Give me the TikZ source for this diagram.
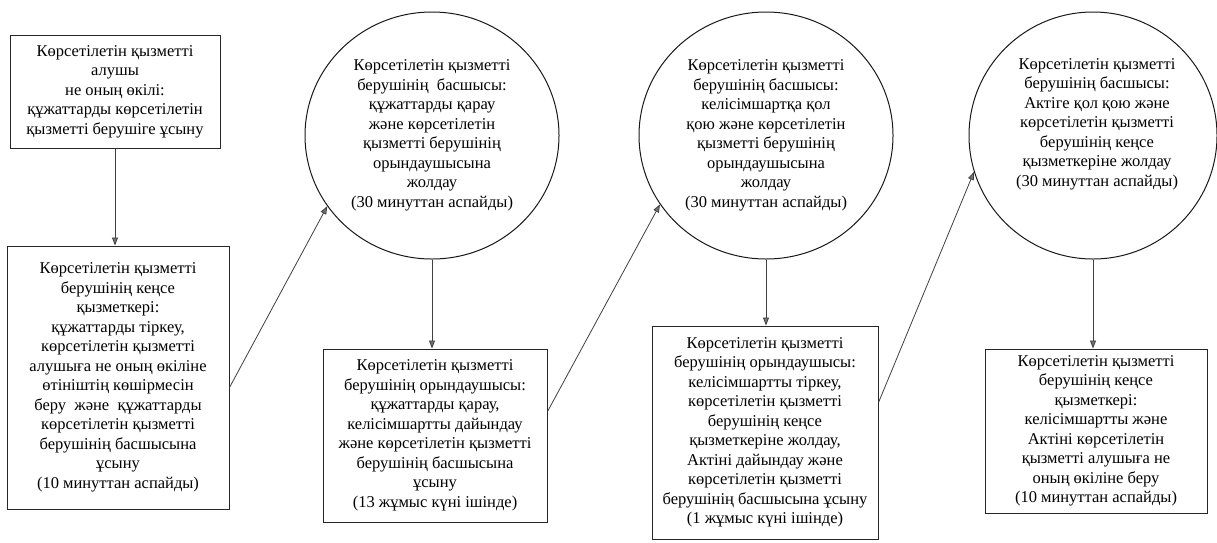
\documentclass[tikz,border=0pt]{standalone}
\usepackage{fontspec}
\setmainfont{Liberation Serif}
\usetikzlibrary{shapes.geometric,arrows.meta,calc}
\begin{document}
\begin{tikzpicture}[x=1pt,y=-1pt,
  every node/.style={font=\fontsize{16.5}{19.5}\selectfont, text=black, align=center, inner sep=0pt},
  boxnode/.style={draw=black!85, line width=1pt, rectangle},
  ovalnode/.style={draw=black!90, line width=1pt, ellipse},
  arr/.style={draw=black!75, line width=0.8pt, -{Triangle[width=6pt,length=8pt,fill=black!55]}}
]
\useasboundingbox (0,0) rectangle (1217,542);
\fill[white] (0,0) rectangle (1217,542);

\node[boxnode, minimum width=210pt, minimum height=113pt] (b1) at (115,91.5)
 {Көрсетілетін қызметті\\алушы\\не оның өкілі:\\құжаттарды көрсетілетін\\қызметті берушіге ұсыну};

\node[boxnode, minimum width=222pt, minimum height=263pt] (b2) at (118,377.5)
 {Көрсетілетін қызметті\\берушінің кеңсе\\қызметкері:\\құжаттарды тіркеу,\\көрсетілетін қызметті\\алушыға не оның өкіліне\\өтініштің көшірмесін\\беру \ жəне \ құжаттарды\\көрсетілетін қызметті\\берушінің басшысына\\ұсыну\\(10 минуттан аспайды)};

\node[ovalnode, minimum width=254pt, minimum height=247pt] (c1) at (432,135.5)
 {Көрсетілетін қызметті\\берушінің \ басшысы:\\құжаттарды қарау\\жəне көрсетілетін\\қызметті берушінің\\орындаушысына\\жолдау\\(30 минуттан аспайды)};

\node[boxnode, minimum width=224pt, minimum height=173pt] (b3) at (435,435.5)
 {Көрсетілетін қызметті\\берушінің орындаушысы:\\құжаттарды қарау,\\келісімшартты дайындау\\жəне көрсетілетін қызметті\\берушінің басшысына\\ұсыну\\(13 жұмыс күні ішінде)};

\node[ovalnode, minimum width=254pt, minimum height=247pt] (c2) at (766,135.5)
 {Көрсетілетін қызметті\\берушінің басшысы:\\келісімшартқа қол\\қою жəне көрсетілетін\\қызметті берушінің\\орындаушысына\\жолдау\\(30 минуттан аспайды)};

\node[boxnode, minimum width=226pt, minimum height=213pt] (b4) at (765,432.5)
 {Көрсетілетін қызметті\\берушінің орындаушысы:\\келісімшартты тіркеу,\\көрсетілетін қызметті\\берушінің кеңсе\\қызметкеріне жолдау,\\Актіні дайындау жəне\\көрсетілетін қызметті\\берушінің басшысына ұсыну\\(1 жұмыс күні ішінде)};

\node[ovalnode, minimum width=248pt, minimum height=247pt] (c3) at (1093,135.5) {};
\node (t3) at (1097,124)
 {Көрсетілетін қызметті\\берушінің басшысы:\\Актіге қол қою жəне\\көрсетілетін қызметті\\берушінің кеңсе\\қызметкеріне жолдау\\(30 минуттан аспайды)};

\node[boxnode, minimum width=222pt, minimum height=164pt] (b5) at (1096,431)
 {Көрсетілетін қызметті\\берушінің кеңсе\\қызметкері:\\келісімшартты жəне\\Актіні көрсетілетін\\қызметті алушыға не\\оның өкіліне беру\\(10 минуттан аспайды)};

\draw[arr] (b1.south) -- (b1.south |- b2.north);
\draw[arr] ($(b2.east)+(0,10)$) -- (c1.214);
\draw[arr] (c1.south) -- (c1.south |- b3.north);
\draw[arr] ($(b3.east)+(0,-24)$) -- (c2.213);
\draw[arr] (c2.south) -- (c2.south |- b4.north);
\draw[arr] ($(b4.east)+(0,-30)$) -- (c3.197);
\draw[arr] (c3.south) -- (c3.south |- b5.north);
\end{tikzpicture}
\end{document}
